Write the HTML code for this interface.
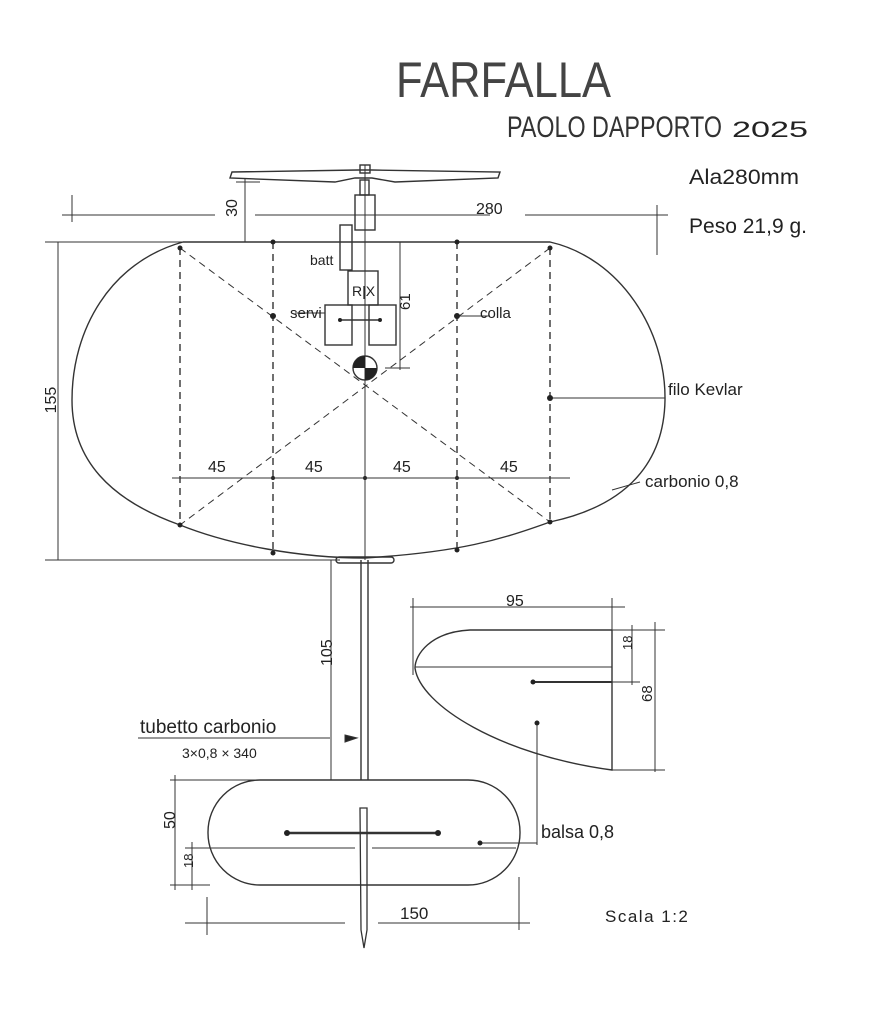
<!DOCTYPE html>
<html><head><meta charset="utf-8"><style>
html,body{margin:0;padding:0;background:#fff}
svg{display:block}
text{font-family:"Liberation Sans",sans-serif;fill:#222}
</style></head><body>
<svg width="870" height="1024" viewBox="0 0 870 1024" xmlns="http://www.w3.org/2000/svg">
<rect width="870" height="1024" fill="#fff"/>
<text x="396" y="97" font-size="50" textLength="215" lengthAdjust="spacingAndGlyphs" style="fill:#444">FARFALLA</text>
<text x="507" y="137" font-size="30" textLength="215" lengthAdjust="spacingAndGlyphs" style="fill:#333">PAOLO DAPPORTO</text>
<text x="732" y="137" font-size="22" textLength="76" lengthAdjust="spacingAndGlyphs">2025</text>
<text x="689" y="184" font-size="21" textLength="110" lengthAdjust="spacingAndGlyphs">Ala280mm</text>
<text x="689" y="233" font-size="21" textLength="118" lengthAdjust="spacingAndGlyphs">Peso 21,9 g.</text>

<g stroke="#333" fill="none" stroke-width="1.4">
<path d="M183,242 L550,242 C620,258 666,330 665,400 C664,460 630,505 550,522 C500,540 460,552 365,558 C300,558 230,545 180,525 C110,500 72,460 72,400 C72,330 110,262 183,242 Z"/>
<g stroke-dasharray="7,5">
<line x1="180" y1="248" x2="180" y2="525"/>
<line x1="273" y1="242" x2="273" y2="553"/>
<line x1="457" y1="242" x2="457" y2="550"/>
<line x1="550" y1="248" x2="550" y2="522"/>
<line x1="180" y1="248" x2="550" y2="522" stroke-width="1"/>
<line x1="550" y1="248" x2="180" y2="525" stroke-width="1"/>
</g>
<line x1="365" y1="165" x2="365" y2="560" stroke-width="1"/>
<line x1="361" y1="560" x2="361" y2="780"/>
<line x1="368" y1="560" x2="368" y2="780"/>
<rect x="336" y="557" width="58" height="6" rx="3"/>
<path d="M232,172 L358,170 L372,170 L500,172 L498,178 L395,182 L372,178 L355,178 L335,182 L230,178 Z"/>
<rect x="360" y="165" width="10" height="8"/>
<rect x="360" y="180" width="9" height="15"/>
<rect x="355" y="195" width="20" height="35"/>
<rect x="340" y="225" width="12" height="45"/>
<rect x="348" y="271" width="30" height="34"/>
<rect x="325" y="305" width="27" height="40"/>
<rect x="369" y="305" width="27" height="40"/>
<line x1="340" y1="320" x2="380" y2="320"/>
<line x1="295" y1="313" x2="325" y2="313" stroke-width="1"/>
<line x1="460" y1="316" x2="490" y2="316" stroke-width="1"/>
<line x1="550" y1="398" x2="665" y2="398" stroke-width="1"/>
<line x1="612" y1="490" x2="640" y2="482" stroke-width="1"/>
<circle cx="365" cy="368" r="12"/>
</g>
<path d="M365,356 A12,12 0 0 0 353,368 L365,368 Z M365,368 L377,368 A12,12 0 0 1 365,380 Z" fill="#222"/>
<g fill="#222">
<circle cx="180" cy="248" r="2.5"/><circle cx="273" cy="242" r="2.5"/><circle cx="457" cy="242" r="2.5"/><circle cx="550" cy="248" r="2.5"/>
<circle cx="180" cy="525" r="2.5"/><circle cx="273" cy="553" r="2.5"/><circle cx="457" cy="550" r="2.5"/><circle cx="550" cy="522" r="2.5"/>
<circle cx="273" cy="316" r="3"/><circle cx="457" cy="316" r="3"/><circle cx="550" cy="398" r="3"/>
<circle cx="273" cy="478" r="2"/><circle cx="365" cy="478" r="2"/><circle cx="457" cy="478" r="2"/>
<circle cx="340" cy="320" r="2"/><circle cx="380" cy="320" r="2"/>
</g>
<g stroke="#333" fill="none" stroke-width="1">
<line x1="62" y1="215" x2="215" y2="215"/><line x1="255" y1="215" x2="490" y2="215"/><line x1="525" y1="215" x2="668" y2="215"/>
<line x1="72" y1="195" x2="72" y2="222"/><line x1="657" y1="205" x2="657" y2="255"/>
<line x1="245" y1="178" x2="245" y2="242"/><line x1="236" y1="182" x2="260" y2="182"/>
<line x1="45" y1="242" x2="183" y2="242"/><line x1="45" y1="560" x2="340" y2="560"/>
<line x1="58" y1="242" x2="58" y2="560"/>
<line x1="172" y1="478" x2="570" y2="478"/>
<line x1="400" y1="242" x2="400" y2="370"/><line x1="385" y1="368" x2="410" y2="368"/>
<line x1="331" y1="560" x2="331" y2="780"/>
<line x1="138" y1="738" x2="330" y2="738"/>
<path d="M345,735 L357,738 L345,742 Z" fill="#222"/>
<path d="M612,630 L470,630 C430,632 415,655 415,668 C420,705 500,755 612,770 L612,630" stroke-width="1.4"/>
<line x1="415" y1="667" x2="612" y2="667"/>
<line x1="533" y1="682" x2="612" y2="682" stroke-width="2"/>
<line x1="410" y1="607" x2="625" y2="607"/><line x1="413" y1="598" x2="413" y2="675"/><line x1="612" y1="598" x2="612" y2="630"/>
<line x1="655" y1="622" x2="655" y2="772"/><line x1="612" y1="630" x2="665" y2="630"/><line x1="612" y1="770" x2="665" y2="770"/>
<line x1="632" y1="625" x2="632" y2="685"/><line x1="612" y1="682" x2="640" y2="682"/>
<line x1="537" y1="723" x2="537" y2="845"/>
<line x1="480" y1="843" x2="537" y2="843"/>
<rect x="208" y="780" width="312" height="105" rx="52" stroke-width="1.4"/>
<line x1="212" y1="848" x2="355" y2="848"/><line x1="372" y1="848" x2="516" y2="848"/>
<line x1="287" y1="833" x2="438" y2="833" stroke-width="2.5"/>
<line x1="170" y1="780" x2="330" y2="780"/><line x1="170" y1="885" x2="210" y2="885"/>
<line x1="175" y1="775" x2="175" y2="890"/>
<line x1="185" y1="848" x2="212" y2="848"/><line x1="192" y1="842" x2="192" y2="890"/>
<line x1="185" y1="923" x2="345" y2="923"/><line x1="378" y1="923" x2="530" y2="923"/>
<line x1="207" y1="897" x2="207" y2="935"/><line x1="519" y1="877" x2="519" y2="930"/>
</g>
<path d="M360,808 L367,808 L367,930 L364,948 L361,930 Z" fill="none" stroke="#333" stroke-width="1.3"/>
<g fill="#222">
<circle cx="287" cy="833" r="3"/><circle cx="438" cy="833" r="3"/><circle cx="533" cy="682" r="2.5"/><circle cx="537" cy="723" r="2.5"/><circle cx="480" cy="843" r="2.5"/>
</g>
<g font-size="15">
<text x="237" y="208" font-size="16" text-anchor="middle" transform="rotate(-90 237 208)">30</text>
<text x="476" y="214" font-size="16">280</text>
<text x="50" y="406" font-size="16" transform="rotate(-90 50 400)" text-anchor="middle">155</text>
<text x="208" y="472" font-size="16">45</text>
<text x="305" y="472" font-size="16">45</text>
<text x="393" y="472" font-size="16">45</text>
<text x="500" y="472" font-size="16">45</text>
<text x="415" y="305" font-size="15" transform="rotate(-90 415 310)">61</text>
<text x="310" y="265" font-size="14">batt</text>
<text x="352" y="296" font-size="14">R|X</text>
<text x="290" y="318" font-size="15">servi</text>
<text x="480" y="318" font-size="15">colla</text>
<text x="668" y="395" font-size="17">filo Kevlar</text>
<text x="645" y="487" font-size="17">carbonio 0,8</text>
<text x="506" y="606" font-size="16">95</text>
<text x="628" y="654" font-size="13" transform="rotate(-90 628 650)">18</text>
<text x="648" y="706" font-size="15" transform="rotate(-90 648 702)">68</text>
<text x="328" y="670" font-size="16" transform="rotate(-90 328 666)">105</text>
<text x="140" y="733" font-size="19">tubetto carbonio</text>
<text x="182" y="758" font-size="14">3×0,8 × 340</text>
<text x="171" y="833" font-size="16" transform="rotate(-90 171 829)">50</text>
<text x="189" y="872" font-size="13" transform="rotate(-90 189 868)">18</text>
<text x="541" y="838" font-size="18">balsa 0,8</text>
<text x="400" y="919" font-size="17">150</text>
<text x="605" y="922" font-size="17" letter-spacing="1.5">Scala 1:2</text>
</g>
</svg>
</body></html>
